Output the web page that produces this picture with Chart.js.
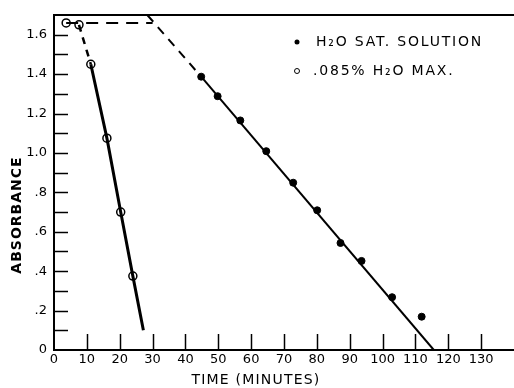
<!DOCTYPE html>
<html>
<head>
<meta charset="utf-8">
<script src="https://cdn.jsdelivr.net/npm/chart.js@4/dist/chart.umd.min.js"></script>
<style>
html,body{margin:0;padding:0;background:#fff;}
#wrap{width:514px;height:388px;position:relative;}
</style>
</head>
<body>
<div id="wrap"><canvas id="c" width="514" height="388"></canvas></div>
<script>
// Data (time in minutes, absorbance)
const satTime = [44.8, 49.8, 56.7, 64.6, 72.8, 80.1, 87.2, 93.6, 102.9, 111.9];
const satAbs  = [1.387, 1.288, 1.165, 1.009, 0.849, 0.709, 0.543, 0.452, 0.268, 0.169];
const maxTime = [3.7, 7.6, 11.2, 16.1, 20.3, 24.0];
const maxAbs  = [1.66, 1.65, 1.45, 1.075, 0.70, 0.375];
// Drawn curves
const satFitDashedT = [28.4, 44.8];
const satFitDashedA = [1.70, 1.387];
const satFitSolidT  = [44.8, 115.6];
const satFitSolidA  = [1.387, 0.0];
const maxFlatT = [3.7, 30.0];
const maxFlatA = [1.66, 1.66];
const maxDropDashT = [7.6, 11.2];
const maxDropDashA = [1.65, 1.45];
const maxSolidT = [11.2, 16.1, 20.3, 24.0, 27.2];
const maxSolidA = [1.45, 1.075, 0.70, 0.375, 0.10];
const xTickLabels = ['0','10','20','30','40','50','60','70','80','90','100','110','120','130'];
const yTickLabels = {0:'0',2:'.2',4:'.4',6:'.6',8:'.8',10:'1.0',12:'1.2',14:'1.4',16:'1.6'};
const legendLabels = ['H\u2082O SAT. SOLUTION', '.085% H\u2082O MAX.'];
const xTitle = 'TIME (MINUTES)';
const yTitle = 'ABSORBANCE';

const pts = (t, a) => t.map((v, i) => ({x: v, y: a[i]}));
const FONT = "'DejaVu Sans', sans-serif";

const lineDs = (t, a, dash, w) => ({
  type: 'line', data: pts(t, a), borderColor: '#000', borderWidth: w,
  borderDash: dash, pointRadius: 0, fill: false, tension: 0
});

const decor = {
  id: 'decor',
  afterDraw(chart) {
    const ctx = chart.ctx, ca = chart.chartArea;
    const xs = chart.scales.x, ys = chart.scales.y;
    ctx.save();
    ctx.strokeStyle = '#000';
    ctx.lineWidth = 2;
    ctx.beginPath();
    ctx.moveTo(ca.left, ca.top); ctx.lineTo(ca.right, ca.top);
    ctx.stroke();
    ctx.lineWidth = 1.5;
    for (let v = 10; v <= 130; v += 10) {
      const px = Math.round(xs.getPixelForValue(v)) + 0.5;
      ctx.beginPath(); ctx.moveTo(px, ca.bottom); ctx.lineTo(px, ca.bottom - 16); ctx.stroke();
    }
    for (let k = 1; k <= 16; k++) {
      const py = Math.round(ys.getPixelForValue(k / 10)) + 0.5;
      ctx.beginPath(); ctx.moveTo(ca.left, py); ctx.lineTo(ca.left + 14, py); ctx.stroke();
    }
    // legend
    ctx.fillStyle = '#000';
    ctx.textBaseline = 'middle';
    ctx.textAlign = 'left';
    const lx = 297, ly = [42, 71];
    ctx.beginPath(); ctx.arc(lx, ly[0], 2.5, 0, Math.PI * 2); ctx.fill();
    ctx.lineWidth = 1;
    ctx.beginPath(); ctx.arc(lx, ly[1], 2.5, 0, Math.PI * 2); ctx.stroke();
    ctx.font = '14px ' + FONT;
    ctx.letterSpacing = '1.8px';
    ctx.fillText(legendLabels[0], 316, ly[0]);
    ctx.fillText(legendLabels[1], 313, ly[1]);
    // axis titles
    ctx.textAlign = 'center';
    ctx.letterSpacing = '1.2px';
    ctx.font = '14px ' + FONT;
    ctx.fillText(xTitle, 256, 380);
    ctx.save();
    ctx.translate(17, 215);
    ctx.rotate(-Math.PI / 2);
    ctx.font = 'bold 14px ' + FONT;
    ctx.letterSpacing = '1px';
    ctx.fillText(yTitle, 0, 0);
    ctx.restore();
    ctx.restore();
  }
};

new Chart(document.getElementById('c'), {
  type: 'scatter',
  data: {
    datasets: [
      lineDs(satFitDashedT, satFitDashedA, [9, 7], 2),
      lineDs(satFitSolidT, satFitSolidA, [], 2),
      lineDs(maxFlatT, maxFlatA, [12, 8], 2),
      lineDs(maxDropDashT, maxDropDashA, [7, 6], 2.5),
      lineDs(maxSolidT, maxSolidA, [], 3),
      {
        type: 'scatter', data: pts(satTime, satAbs), pointRadius: 3.5,
        pointBackgroundColor: '#000', pointBorderColor: '#000', pointBorderWidth: 1
      },
      {
        type: 'scatter', data: pts(maxTime, maxAbs), pointRadius: 4,
        pointBackgroundColor: '#fff', pointBorderColor: '#000', pointBorderWidth: 1.5
      }
    ]
  },
  options: {
    responsive: false, animation: false,
    layout: {autoPadding: false, padding: {top: 15, right: 0, left: 0, bottom: 0}},
    plugins: {legend: {display: false}, tooltip: {enabled: false}},
    scales: {
      x: {
        type: 'linear', min: 0, max: 140,
        afterFit(s) { s.height = 38; s.paddingRight = 0; s.paddingLeft = 0; },
        grid: {display: false, drawTicks: false},
        border: {display: true, color: '#000', width: 2},
        ticks: {
          stepSize: 10, padding: 2, color: '#000', font: {family: FONT, size: 13},
          maxRotation: 0, autoSkip: false,
          callback: (v) => xTickLabels[Math.round(v / 10)] ?? ''
        },
        title: {display: false}
      },
      y: {
        type: 'linear', min: 0, max: 1.7,
        afterFit(s) { s.width = 54; s.paddingTop = 0; s.paddingBottom = 0; },
        grid: {display: false, drawTicks: false},
        border: {display: true, color: '#000', width: 2},
        ticks: {
          stepSize: 0.1, padding: 7, color: '#000', font: {family: FONT, size: 13},
          autoSkip: false,
          callback: (v) => yTickLabels[Math.round(v * 10)] ?? ''
        },
        title: {display: false}
      }
    }
  },
  plugins: [decor]
});
</script>
</body>
</html>
